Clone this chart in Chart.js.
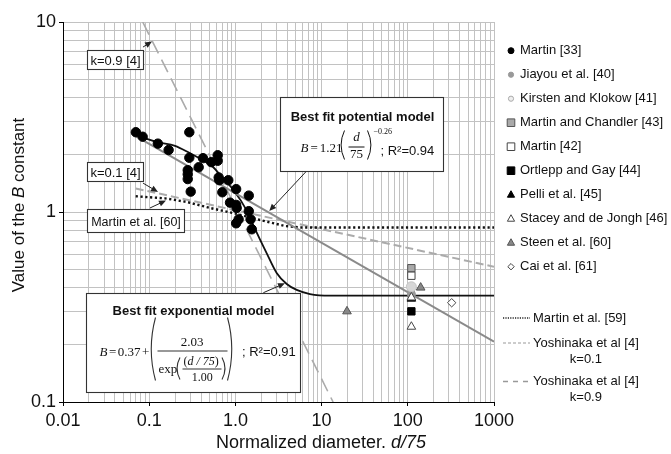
<!DOCTYPE html>
<html><head><meta charset="utf-8">
<script src="https://cdn.jsdelivr.net/npm/chart.js@4/dist/chart.umd.min.js"></script>
<style>html,body{margin:0;padding:0;background:#fff}#wrap{width:671px;height:454px}</style>
</head><body><div id="wrap"><canvas id="c" width="671" height="454"></canvas></div>
<script>
// ---------- axis ticks ----------
const xTickValues = [0.01, 0.1, 1, 10, 100, 1000];
const xTickLabels = ['0.01', '0.1', '1.0', '10', '100', '1000'];
const yTickValues = [0.1, 1, 10];
const yTickLabels = ['0.1', '1', '10'];

// ---------- marker series ----------
const martin33X = [0.070, 0.084, 0.126, 0.168, 0.292, 0.292, 0.280, 0.280, 0.280, 0.303, 0.375, 0.421, 0.525, 0.623, 0.623, 0.640, 0.650, 0.827, 0.705, 1.02, 1.43, 0.866, 1.02, 1.035, 1.43, 1.50, 1.09, 1.02, 1.55];
const martin33Y = [2.63, 2.49, 2.29, 2.12, 2.63, 1.93, 1.66, 1.58, 1.49, 1.28, 1.72, 1.92, 1.83, 1.99, 1.86, 1.52, 1.47, 1.47, 1.27, 1.32, 1.22, 1.12, 1.09, 1.05, 1.01, 0.915, 0.915, 0.872, 0.811];
const jiayouX = [110];      const jiayouY = [0.37];
const kirstenX = [110];     const kirstenY = [0.404];
const chandlerX = [110];    const chandlerY = [0.506];
const martin42X = [110];    const martin42Y = [0.462];
const ortleppX = [110];     const ortleppY = [0.30];
const pelliX = [110];       const pelliY = [0.35];
const staceyX = [110, 110]; const staceyY = [0.355, 0.249];
const steenX = [19.7, 141]; const steenY = [0.30, 0.40];
const caiX = [323];         const caiY = [0.333];

// ---------- line series ----------
const potentialX = [0.0697, 1000];
const potentialY = [2.51, 0.2077];
const exponentialX = [0.0697, 0.1255, 0.199, 0.292, 0.406, 0.554, 0.694, 0.945, 1.35, 1.61, 2.31, 3.01, 3.94, 5.14, 7.34, 12.5, 1000];
const exponentialY = [2.54, 2.33, 2.23, 2.05, 1.89, 1.72, 1.53, 1.31, 1.02, 0.854, 0.606, 0.478, 0.418, 0.389, 0.370, 0.363, 0.363];
const martin59X = [0.0697, 0.153, 0.272, 0.507, 0.938, 1.93, 3.76, 5.62, 1000];
const martin59Y = [1.21, 1.18, 1.13, 1.05, 0.988, 0.908, 0.844, 0.829, 0.829];
const yoshi01X = [0.0697, 1000];
const yoshi01Y = [1.33, 0.515];
const yoshi09X = [0.0841, 13.6];
const yoshi09Y = [10, 0.1];

// ---------- names ----------
const markerNames = ['Martin [33]', 'Jiayou et al. [40]', 'Kirsten and Klokow [41]', 'Martin and Chandler [43]', 'Martin [42]', 'Ortlepp and Gay [44]', 'Pelli et al. [45]', 'Stacey and de Jongh [46]', 'Steen et al. [60]', 'Cai et al. [61]'];
const lineNames = [['Martin et al. [59]'], ['Yoshinaka et al [4]', 'k=0.1'], ['Yoshinaka et al [4]', 'k=0.9']];

const SANS = "'Liberation Sans', Arial, sans-serif";
const SERIF = "'Liberation Serif', 'Times New Roman', serif";
const pts = (xs, ys) => xs.map((x, i) => ({ x, y: ys[i] }));

const markerStyles = [
  { style: 'circle', r: 4.7, fill: '#000', stroke: '#000', lr: 3, lfill: '#000', lstroke: '#000' },
  { style: 'circle', r: 4, fill: '#999', stroke: '#999', lr: 2.6, lfill: '#999', lstroke: '#999' },
  { style: 'circle', r: 5, fill: '#d6d6d6', stroke: '#c4c4c4', lr: 2.6, lfill: '#eee', lstroke: '#aaa' },
  { style: 'rect', r: 5.2, fill: '#a9a9a9', stroke: '#555', lr: 3.8, lfill: '#a9a9a9', lstroke: '#555' },
  { style: 'rect', r: 5.2, fill: '#fff', stroke: '#444', lr: 3.8, lfill: '#fff', lstroke: '#444' },
  { style: 'rect', r: 5.2, fill: '#000', stroke: '#000', lr: 3.8, lfill: '#000', lstroke: '#000' },
  { style: 'triangle', r: 5, fill: '#000', stroke: '#000', lr: 3.6, lfill: '#000', lstroke: '#000' },
  { style: 'triangle', r: 5, fill: '#fff', stroke: '#444', lr: 3.6, lfill: '#fff', lstroke: '#444' },
  { style: 'triangle', r: 5, fill: '#888', stroke: '#555', lr: 3.6, lfill: '#888', lstroke: '#555' },
  { style: 'rectRot', r: 4.2, fill: '#fff', stroke: '#444', lr: 3.2, lfill: '#fff', lstroke: '#444' }
];
const markerData = [
  [martin33X, martin33Y], [jiayouX, jiayouY], [kirstenX, kirstenY], [chandlerX, chandlerY],
  [martin42X, martin42Y], [ortleppX, ortleppY], [pelliX, pelliY], [staceyX, staceyY],
  [steenX, steenY], [caiX, caiY]
];

const lineStyles = [
  { color: '#111', width: 2.4, dash: [2.2, 2.6], legendDash: [1.2, 1.2], legendWidth: 1.4 },
  { color: '#ababab', width: 2, dash: [8, 4], legendDash: [3, 2], legendWidth: 1.2 },
  { color: '#ababab', width: 1.6, dash: [14, 7], legendDash: [5, 5], legendWidth: 1.4 }
];

const datasets = [];
markerData.forEach((d, i) => {
  const s = markerStyles[i];
  datasets.push({
    label: markerNames[i], data: pts(d[0], d[1]), showLine: false,
    pointStyle: s.style, pointRadius: s.r, pointBackgroundColor: s.fill,
    pointBorderColor: s.stroke, pointBorderWidth: 1, order: markerNames.length - i
  });
});
datasets.push({ label: 'Best fit potential model', data: pts(potentialX, potentialY), showLine: true, borderColor: '#8a8a8a', borderWidth: 2, pointRadius: 0, order: 30 });
datasets.push({ label: 'Best fit exponential model', data: pts(exponentialX, exponentialY), showLine: true, borderColor: '#111', borderWidth: 1.8, pointRadius: 0, cubicInterpolationMode: 'monotone', order: 31 });
[[martin59X, martin59Y], [yoshi01X, yoshi01Y], [yoshi09X, yoshi09Y]].forEach((d, i) => {
  const s = lineStyles[i];
  datasets.push({ label: lineNames[i].join(' '), data: pts(d[0], d[1]), showLine: true, borderColor: s.color, borderWidth: s.width, borderDash: s.dash, pointRadius: 0, order: 32 + i });
});

function gridVals(major) {
  const out = [];
  for (let i = 0; i < major.length - 1; i++) {
    for (let m = 1; m <= 9; m++) out.push({ value: major[i] * m, major: m === 1 });
  }
  out.push({ value: major[major.length - 1], major: true });
  return out;
}
function labelFor(vals, labels) {
  return function (value, index, ticks) {
    const t = ticks[index];
    if (!t || !t.major) return '';
    const k = vals.findIndex(v => Math.abs(v - value) < v * 1e-6);
    return k >= 0 ? labels[k] : '';
  };
}

// ---------- drawing helpers ----------
function tx(ctx, s, x, y, font, align) {
  ctx.font = font; ctx.textAlign = align || 'left'; ctx.fillText(s, x, y);
  return ctx.measureText(s).width;
}
function paren(ctx, x, top, bot, open, w) {
  const mid = (top + bot) / 2;
  ctx.beginPath();
  if (open) { ctx.moveTo(x + w, top); ctx.quadraticCurveTo(x - w * 0.7, mid, x + w, bot); }
  else { ctx.moveTo(x, top); ctx.quadraticCurveTo(x + w * 1.7, mid, x, bot); }
  ctx.stroke();
}
function arrow(ctx, x1, y1, x2, y2) {
  const a = Math.atan2(y2 - y1, x2 - x1), L = 7, W = 3;
  ctx.beginPath(); ctx.moveTo(x1, y1); ctx.lineTo(x2 - Math.cos(a) * L * 0.8, y2 - Math.sin(a) * L * 0.8); ctx.stroke();
  ctx.beginPath();
  ctx.moveTo(x2, y2);
  ctx.lineTo(x2 - Math.cos(a) * L - Math.sin(a) * W, y2 - Math.sin(a) * L + Math.cos(a) * W);
  ctx.lineTo(x2 - Math.cos(a) * L + Math.sin(a) * W, y2 - Math.sin(a) * L - Math.cos(a) * W);
  ctx.closePath(); ctx.fill();
}
function box(ctx, x, y, w, h) {
  x = Math.round(x) + 0.5; y = Math.round(y) + 0.5;
  ctx.fillStyle = '#fff'; ctx.fillRect(x, y, w, h);
  ctx.strokeStyle = '#333'; ctx.lineWidth = 1.1; ctx.strokeRect(x, y, w, h);
  ctx.fillStyle = '#111';
  return [x, y];
}
function marker(ctx, style, x, y, r, fill, stroke) {
  ctx.beginPath();
  if (style === 'circle') ctx.arc(x, y, r, 0, Math.PI * 2);
  else if (style === 'rect') ctx.rect(x - r, y - r, 2 * r, 2 * r);
  else if (style === 'triangle') { ctx.moveTo(x, y - r * 1.1); ctx.lineTo(x + r, y + r * 0.7); ctx.lineTo(x - r, y + r * 0.7); ctx.closePath(); }
  else if (style === 'rectRot') { ctx.moveTo(x, y - r); ctx.lineTo(x + r, y); ctx.lineTo(x, y + r); ctx.lineTo(x - r, y); ctx.closePath(); }
  ctx.fillStyle = fill; ctx.fill();
  ctx.strokeStyle = stroke; ctx.lineWidth = 1; ctx.stroke();
}

// annotation anchors in data units
const ann = {
  k09: { x: 0.01898, y: 7.12, from: [0.0847, 7.38], to: [0.1078, 7.9] },
  k01: { x: 0.01898, y: 1.833, from: [0.0847, 1.42], to: [0.1265, 1.274] },
  m60: { x: 0.01898, y: 1.037, from: [0.1022, 1.05], to: [0.1566, 1.15] },
  pot: { x: 3.29, y: 4.03, from: [6.59, 1.63], to: [2.47, 1.012] },
  exp: { x: 0.01849, y: 0.375, from: [2.11, 0.376], to: [3.76, 0.4214] }
};

const decor = {
  id: 'decor',
  afterDatasetsDraw(chart) {
    const ctx = chart.ctx, xs = chart.scales.x, ys = chart.scales.y;
    const P = (x, y) => [xs.getPixelForValue(x), ys.getPixelForValue(y)];
    ctx.save();
    ctx.textBaseline = 'alphabetic';
    ctx.strokeStyle = '#222'; ctx.fillStyle = '#222'; ctx.lineWidth = 1;
    Object.values(ann).forEach(a => {
      const f = P(a.from[0], a.from[1]), t = P(a.to[0], a.to[1]);
      arrow(ctx, f[0], f[1], t[0], t[1]);
    });
    let p, b;
    p = P(ann.k09.x, ann.k09.y); b = box(ctx, p[0], p[1], 56, 19);
    tx(ctx, 'k=0.9 [4]', b[0] + 28, b[1] + 14, '13px ' + SANS, 'center');
    p = P(ann.k01.x, ann.k01.y); b = box(ctx, p[0], p[1], 56, 19);
    tx(ctx, 'k=0.1 [4]', b[0] + 28, b[1] + 14, '13px ' + SANS, 'center');
    p = P(ann.m60.x, ann.m60.y); b = box(ctx, p[0], p[1], 97, 23);
    tx(ctx, 'Martin et al. [60]', b[0] + 48.5, b[1] + 16, '12.5px ' + SANS, 'center');

    // potential model box
    p = P(ann.pot.x, ann.pot.y); b = box(ctx, p[0], p[1], 163, 74);
    let bx = b[0], by = b[1];
    tx(ctx, 'Best fit potential model', bx + 82, by + 23, 'bold 13px ' + SANS, 'center');
    let x = bx + 20, base = by + 54;
    x += tx(ctx, 'B', x, base, 'italic 13px ' + SERIF) + 2;
    x += tx(ctx, '=', x, base, '13px ' + SERIF) + 2;
    x += tx(ctx, '1.21', x, base, '13px ' + SERIF);
    ctx.strokeStyle = '#111'; ctx.lineWidth = 1;
    paren(ctx, bx + 60, by + 33, by + 62, true, 4);
    tx(ctx, 'd', bx + 76, by + 43, 'italic 13px ' + SERIF, 'center');
    ctx.beginPath(); ctx.moveTo(bx + 68, by + 49.5); ctx.lineTo(bx + 84, by + 49.5); ctx.stroke();
    tx(ctx, '75', bx + 76, by + 60, '13px ' + SERIF, 'center');
    paren(ctx, bx + 87, by + 33, by + 62, false, 4);
    tx(ctx, '\u22120.26', bx + 93, by + 36, '8px ' + SERIF);
    tx(ctx, '; R\u00b2=0.94', bx + 100, by + 57, '13px ' + SANS);

    // exponential model box
    p = P(ann.exp.x, ann.exp.y); b = box(ctx, p[0], p[1], 214, 99);
    bx = b[0]; by = b[1];
    tx(ctx, 'Best fit exponential model', bx + 107, by + 21, 'bold 13px ' + SANS, 'center');
    x = bx + 13; base = by + 62;
    x += tx(ctx, 'B', x, base, 'italic 13px ' + SERIF) + 1.5;
    x += tx(ctx, '=', x, base, '13px ' + SERIF) + 1.5;
    x += tx(ctx, '0.37', x, base, '13px ' + SERIF) + 1.5;
    tx(ctx, '+', x, base, '13px ' + SERIF);
    paren(ctx, bx + 64, by + 24, by + 87, true, 5);
    tx(ctx, '2.03', bx + 105.7, by + 52, '13px ' + SERIF, 'center');
    ctx.beginPath(); ctx.moveTo(bx + 71, by + 57.5); ctx.lineTo(bx + 141, by + 57.5); ctx.stroke();
    tx(ctx, 'exp', bx + 72, by + 79, '13px ' + SERIF);
    paren(ctx, bx + 90, by + 64, by + 86, true, 3.5);
    x = bx + 97;
    x += tx(ctx, '(', x, by + 71, '12px ' + SERIF);
    x += tx(ctx, 'd / 75', x, by + 71, 'italic 12px ' + SERIF);
    tx(ctx, ')', x, by + 71, '12px ' + SERIF);
    ctx.beginPath(); ctx.moveTo(bx + 96, by + 75.5); ctx.lineTo(bx + 135, by + 75.5); ctx.stroke();
    tx(ctx, '1.00', bx + 115.7, by + 87, '12px ' + SERIF, 'center');
    paren(ctx, bx + 135.5, by + 64, by + 86, false, 3.5);
    paren(ctx, bx + 141, by + 24, by + 87, false, 5);
    tx(ctx, '; R\u00b2=0.91', bx + 155.5, by + 62, '13px ' + SANS);
    ctx.restore();
  },
  afterDraw(chart) {
    const ctx = chart.ctx, area = chart.chartArea;
    ctx.save();
    ctx.fillStyle = '#111';
    ctx.textBaseline = 'middle';
    // y title
    ctx.save();
    ctx.translate(19, 205); ctx.rotate(-Math.PI / 2);
    const yParts = [['Value of the ', '17px ' + SANS], ['B', 'italic 17px ' + SANS], [' constant', '17px ' + SANS]];
    let tw = 0; yParts.forEach(q => { ctx.font = q[1]; tw += ctx.measureText(q[0]).width; });
    let x = -tw / 2;
    yParts.forEach(q => { x += tx(ctx, q[0], x, 0, q[1]); });
    ctx.restore();
    // x title
    const xParts = [['Normalized diameter. ', '18px ' + SANS], ['d/75', 'italic 18px ' + SANS]];
    tw = 0; xParts.forEach(q => { ctx.font = q[1]; tw += ctx.measureText(q[0]).width; });
    x = 321 - tw / 2;
    xParts.forEach(q => { x += tx(ctx, q[0], x, 443, q[1]); });

    // legend: markers
    const lx = area.right + 17, ltx = area.right + 26;
    markerNames.forEach((name, i) => {
      const y = 50.7 + i * 24;
      const s = markerStyles[i];
      marker(ctx, s.style, lx, y, s.lr, s.lfill, s.lstroke);
      ctx.fillStyle = '#111';
      tx(ctx, name, ltx, y, '13px ' + SANS);
    });
    // legend: lines
    const lineY = [318, 343, 381.5];
    lineNames.forEach((names, i) => {
      const s = lineStyles[i], y = lineY[i];
      ctx.strokeStyle = s.color === '#111' ? '#222' : '#999';
      ctx.lineWidth = s.legendWidth; ctx.setLineDash(s.legendDash);
      ctx.beginPath(); ctx.moveTo(area.right + 9, y); ctx.lineTo(area.right + 36, y); ctx.stroke();
      ctx.setLineDash([]);
      ctx.fillStyle = '#111';
      const w = tx(ctx, names[0], area.right + 39, y, '13px ' + SANS);
      if (names[1]) tx(ctx, names[1], area.right + 39 + w / 2, y + 16, '13px ' + SANS, 'center');
    });
    ctx.restore();
  }
};

const grid = {
  color: '#c2c2c2', lineWidth: 1, drawTicks: true, tickLength: 4,
  tickColor: c => (c.tick && c.tick.major ? '#000' : 'rgba(0,0,0,0)')
};

new Chart(document.getElementById('c'), {
  type: 'scatter',
  data: { datasets },
  options: {
    responsive: false, animation: false, devicePixelRatio: 1,
    layout: { padding: { left: 0, right: 177, top: 22, bottom: 0 } },
    plugins: { legend: { display: false }, tooltip: { enabled: false } },
    scales: {
      x: {
        type: 'logarithmic', min: 0.01, max: 1000,
        afterBuildTicks: s => { s.ticks = gridVals(xTickValues); },
        afterFit: s => { s.height = 52; },
        grid, border: { display: true, color: '#000', width: 1 },
        ticks: { autoSkip: false, maxRotation: 0, minRotation: 0, padding: 4, color: '#111', font: { size: 18, family: SANS }, callback: labelFor(xTickValues, xTickLabels) }
      },
      y: {
        type: 'logarithmic', min: 0.1, max: 10,
        afterBuildTicks: s => { s.ticks = gridVals(yTickValues); },
        afterFit: s => { s.width = 63; },
        grid, border: { display: true, color: '#000', width: 1 },
        ticks: { autoSkip: false, padding: 3, color: '#111', font: { size: 18, family: SANS }, callback: labelFor(yTickValues, yTickLabels) }
      }
    }
  },
  plugins: [decor]
});
</script></body></html>
